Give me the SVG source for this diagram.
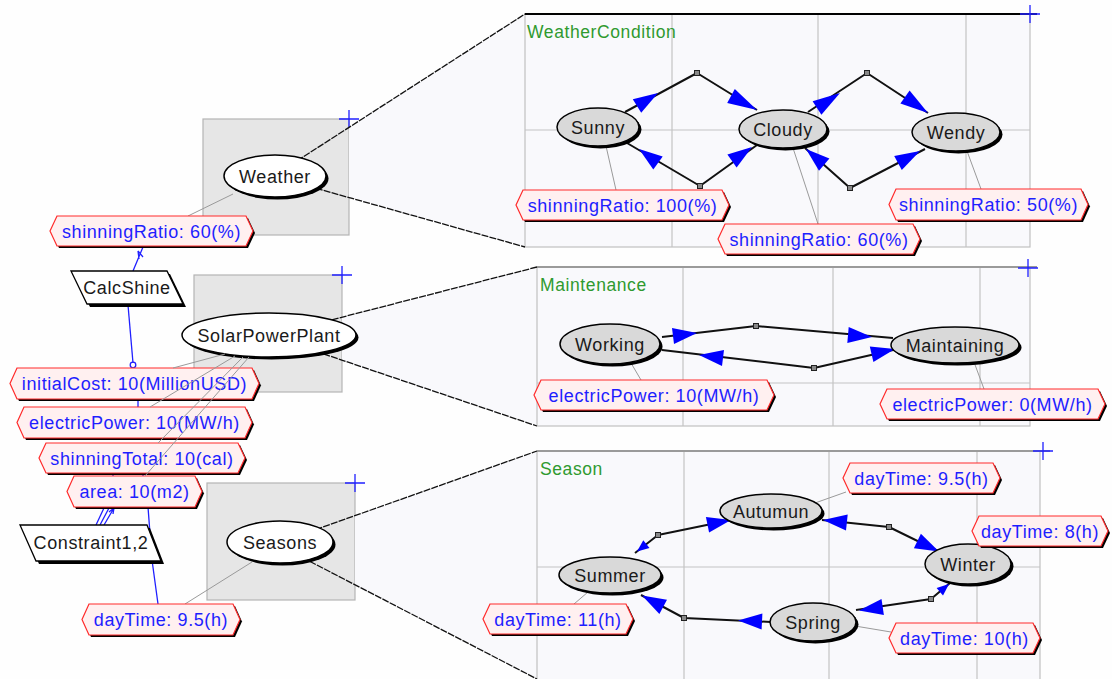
<svg xmlns="http://www.w3.org/2000/svg" width="1112" height="679" viewBox="0 0 1112 679">
<style>
.bg{fill:#fefefe}
.box{fill:#e6e6e6;stroke:#b4b4b4;stroke-width:1.2}
.plus{stroke:#2020ff;stroke-width:1.3;fill:none}
.zl{stroke:#111;stroke-width:1.3;stroke-dasharray:7 1.2;fill:none}
.zf{fill:#f9f9fc}
.panel{fill:#f9f9fc;stroke:#c0c0c0;stroke-width:1.2}
.grid{stroke:#c4c4c4;stroke-width:1.2;fill:none}
.title{font-family:"Liberation Sans",Arial,sans-serif;font-size:17.5px;fill:#2f9a2f;letter-spacing:0.6px}
.edge{stroke:#111;stroke-width:2;fill:none;stroke-linejoin:round}
.arr{fill:#0000ff}
.jn{fill:#888;stroke:#222;stroke-width:1}
.sh{fill:#000}
.ell{fill:#fff;stroke:#000;stroke-width:1.5}
.st{fill:#d9d9d9;stroke:#000;stroke-width:1.5}
.para{fill:#fff;stroke:#000;stroke-width:1.3}
.nt{font-family:"Liberation Sans",Arial,sans-serif;font-size:18px;fill:#1a1a1a;text-anchor:middle;letter-spacing:0.6px}
.link{stroke:#9a9a9a;stroke-width:1;fill:none}
.ls{fill:#000}
.lf{fill:#fff0f0;stroke:#ff2a2a;stroke-width:1.2}
.lt{font-family:"Liberation Sans",Arial,sans-serif;font-size:18px;fill:#1e1eff;text-anchor:middle;letter-spacing:0.6px}
.blue{stroke:#2020ff;stroke-width:1.3;fill:none}
</style>
<rect class="bg" x="0" y="0" width="1112" height="679"/>

<!-- left boxes -->
<g id="box-weather"><rect class="box" x="203" y="119" width="146" height="116"/><path class="plus" d="M339 119h20M349 110v18"/></g>
<g id="box-solar"><rect class="box" x="194" y="275" width="148" height="117"/><path class="plus" d="M332 275h20M342 266v18"/></g>
<g id="box-seasons"><rect class="box" x="207" y="483" width="148" height="117"/><path class="plus" d="M345 483h20M355 474v18"/></g>

<!-- zoom fills -->
<g id="zoom-fills">
<polygon class="zf" points="349,127.4 525,14 525,247 349,197.6"/>
<polygon class="zf" points="342,317 537,267 537,426 342,360.5"/>
<polygon class="zf" points="355,515.6 537,451 537,679 355,584.8"/>
</g>

<!-- panels -->
<g id="panel-weathercondition">
<rect class="panel" x="525" y="14" width="505" height="233"/>
<path class="grid" d="M672 14V247M818 14V247M966 14V247M525 130H1030"/>
<line x1="525" y1="14" x2="1037" y2="14" stroke="#000" stroke-width="2"/>
<path class="plus" d="M1020 14h20M1030 5v18"/>
<text class="title" x="527" y="38">WeatherCondition</text>
</g>
<g id="panel-maintenance">
<rect class="panel" x="537" y="267" width="493" height="159"/>
<path class="grid" d="M683 267V426M833 267V426M980 267V426M537 383H1030"/>
<line x1="537" y1="267" x2="1037" y2="267" stroke="#9a9a9a" stroke-width="2"/>
<path class="plus" d="M1018 268h20M1028 259v18"/>
<text class="title" x="540" y="291">Maintenance</text>
</g>
<g id="panel-season">
<rect class="panel" x="537" y="451" width="503" height="240"/>
<path class="grid" d="M684 451V679M829 451V679M977 451V679M537 567H1040"/>
<line x1="537" y1="451" x2="1050" y2="451" stroke="#9a9a9a" stroke-width="2"/>
<path class="plus" d="M1033 451h20M1043 442v18"/>
<text class="title" x="540" y="475">Season</text>
</g>

<!-- connectors -->
<g id="connectors">
<!-- zoom lines -->
<path class="zl" d="M290 165.4L525 14M300 183.8L525 247"/>
<path class="zl" d="M300 328L537 267M300 346L537 426"/>
<path class="zl" d="M300 535.2L537 451M295 553.7L537 679"/>
<!-- label links -->
<path class="link" d="M233 194L188 216"/>
<path class="link" d="M252 562L185 604"/>
<path class="link" d="M606 146L616 190M793 148L818 224M967 151L981 189"/>
<path class="link" d="M631 363L641 380M974 362L984 389"/>
<path class="link" d="M815 503L846 492M588 592L574 604M855 626L891 632"/>
<!-- weather transitions -->
<path class="edge" d="M625 112L697 73L757 110"/>
<path class="edge" d="M627 143L700 186L757 145"/>
<path class="edge" d="M808 112L867 73L928 113"/>
<path class="edge" d="M805 148L850 188L925 149"/>
<polygon class="arr" points="658,93 641.2,112.8 632.8,99.2"/>
<polygon class="arr" points="757,110 727.2,103 734.8,89"/>
<polygon class="arr" points="639,149 662.7,156.6 653.3,169.4"/>
<polygon class="arr" points="752,147 736.6,167.6 727.4,154.4"/>
<polygon class="arr" points="840,93 821.4,114.7 812.6,101.3"/>
<polygon class="arr" points="928,113 900.4,103.6 909.6,90.4"/>
<polygon class="arr" points="806,149 829.4,158.5 819,170.7"/>
<polygon class="arr" points="920,151 901.8,170 894.2,156"/>
<!-- maintenance transitions -->
<path class="edge" d="M662 337L756 326L893 338"/>
<path class="edge" d="M893 350L814 368L662 350"/>
<polygon class="arr" points="697,333 674,344 672,328"/>
<polygon class="arr" points="872,337 847.3,343 848.7,327"/>
<polygon class="arr" points="895,349 873.4,362.1 869.8,346.5"/>
<polygon class="arr" points="699,355 724,350 722,366"/>
<!-- season transitions -->
<path class="edge" d="M635 553L658 535L731 520"/>
<path class="edge" d="M822 520L889 527L940 552"/>
<path class="edge" d="M950 583L931 599L856 610"/>
<path class="edge" d="M771 622L684 618L641 595"/>
<polygon class="arr" points="731,520 709.1,532.6 705.9,517"/>
<polygon class="arr" points="637,551.5 649.5,548 643.3,540.2"/>
<polygon class="arr" points="823,520 846,530.5 847.7,514.5"/>
<polygon class="arr" points="939,551.5 913.9,548.2 920.9,533.8"/>
<polygon class="arr" points="949,584 943,595.5 936.6,587.9"/>
<polygon class="arr" points="859,610.5 881.5,599.1 883.9,614.9"/>
<polygon class="arr" points="738,620.5 762.4,613.6 761.6,629.6"/>
<polygon class="arr" points="642,595.5 667,599.7 659.4,613.9"/>
<!-- junctions -->
<g class="jn">
<rect x="694.5" y="70.5" width="5" height="5"/><rect x="697.5" y="183.5" width="5" height="5"/>
<rect x="864.5" y="70.5" width="5" height="5"/><rect x="847.5" y="185.5" width="5" height="5"/>
<rect x="753.5" y="323.5" width="5" height="5"/><rect x="811.5" y="365.5" width="5" height="5"/>
<rect x="655.5" y="532.5" width="5" height="5"/><rect x="886.5" y="524.5" width="5" height="5"/>
<rect x="928.5" y="596.5" width="5" height="5"/><rect x="681.5" y="615.5" width="5" height="5"/>
</g>
<!-- blue constraint links -->
<path class="blue" d="M143 247L133 271M138 251l1 8M138 251l5 6"/>
<path class="blue" d="M128 305L133 363"/>
<circle cx="133" cy="365" r="2.8" fill="none" stroke="#2020ff" stroke-width="1.3"/>
<path class="blue" d="M138 399V407M113 472V477M143 472V477"/>
<path class="blue" d="M148 507L152 560L158 604"/>
<path class="blue" d="M96 525L104 508M100 525L109 508M104 525L114 508M109 512l5-4l-1 6"/>
</g>

<!-- left nodes -->
<g id="node-weather"><ellipse class="sh" cx="277.5" cy="178.5" rx="51" ry="21"/><ellipse class="ell" cx="275" cy="176" rx="51" ry="21"/><text class="nt" x="275" y="182.5">Weather</text></g>
<g id="node-solarpowerplant"><ellipse class="sh" cx="271.5" cy="337.5" rx="87" ry="22"/><ellipse class="ell" cx="269" cy="335" rx="87" ry="22"/><text class="nt" x="269" y="341.5">SolarPowerPlant</text></g>
<g id="node-seasons"><ellipse class="sh" cx="282.5" cy="544.5" rx="53" ry="21"/><ellipse class="ell" cx="280" cy="542" rx="53" ry="21"/><text class="nt" x="280" y="548.5">Seasons</text></g>
<g id="node-calcshine"><polygon class="sh" points="74,274 170,274 186,307 90,307"/><polygon class="para" points="71,271 167,271 183,304 87,304"/><text class="nt" x="127" y="294">CalcShine</text></g>
<g id="node-constraint"><polygon class="sh" points="23,528 150,528 164,564 39,564"/><polygon class="para" points="20,525 147,525 161,561 36,561"/><text class="nt" x="91" y="549">Constraint1,2</text></g>

<!-- state nodes -->
<g id="node-sunny"><ellipse class="sh" cx="600.5" cy="129.5" rx="41" ry="19"/><ellipse class="st" cx="598" cy="127" rx="41" ry="19"/><text class="nt" x="598" y="133.5">Sunny</text></g>
<g id="node-cloudy"><ellipse class="sh" cx="785.5" cy="131.5" rx="44" ry="19"/><ellipse class="st" cx="783" cy="129" rx="44" ry="19"/><text class="nt" x="783" y="135.5">Cloudy</text></g>
<g id="node-wendy"><ellipse class="sh" cx="958.5" cy="134.5" rx="44" ry="19"/><ellipse class="st" cx="956" cy="132" rx="44" ry="19"/><text class="nt" x="956" y="138.5">Wendy</text></g>
<g id="node-working"><ellipse class="sh" cx="612.5" cy="346.5" rx="50" ry="20"/><ellipse class="st" cx="610" cy="344" rx="50" ry="20"/><text class="nt" x="610" y="350.5">Working</text></g>
<g id="node-maintaining"><ellipse class="sh" cx="957.5" cy="347.5" rx="64" ry="18"/><ellipse class="st" cx="955" cy="345" rx="64" ry="18"/><text class="nt" x="955" y="351.5">Maintaining</text></g>
<g id="node-autumun"><ellipse class="sh" cx="773.5" cy="513.5" rx="51" ry="17"/><ellipse class="st" cx="771" cy="511" rx="51" ry="17"/><text class="nt" x="771" y="517.5">Autumun</text></g>
<g id="node-winter"><ellipse class="sh" cx="970.5" cy="566.5" rx="43" ry="20"/><ellipse class="st" cx="968" cy="564" rx="43" ry="20"/><text class="nt" x="968" y="570.5">Winter</text></g>
<g id="node-summer"><ellipse class="sh" cx="612.5" cy="577.5" rx="51" ry="18"/><ellipse class="st" cx="610" cy="575" rx="51" ry="18"/><text class="nt" x="610" y="581.5">Summer</text></g>
<g id="node-spring"><ellipse class="sh" cx="815.5" cy="624.5" rx="43" ry="19"/><ellipse class="st" cx="813" cy="622" rx="43" ry="19"/><text class="nt" x="813" y="628.5">Spring</text></g>

<!-- labels -->
<g id="lbl-shinningratio-60-left" transform="translate(50,216)"><polygon class="ls" transform="translate(2,2)" points="7,0 196,0 203,15 196,30 7,30 0,15"/><polygon class="lf" points="7,0 196,0 203,15 196,30 7,30 0,15"/><text class="lt" x="101.5" y="21.5">shinningRatio: 60(%)</text></g>
<g id="lbl-initialcost" transform="translate(10,368)"><polygon class="ls" transform="translate(2,2)" points="7,0 242,0 249,15.5 242,31 7,31 0,15.5"/><polygon class="lf" points="7,0 242,0 249,15.5 242,31 7,31 0,15.5"/><text class="lt" x="124.5" y="22">initialCost: 10(MillionUSD)</text></g>
<g id="lbl-electricpower-left" transform="translate(17,407)"><polygon class="ls" transform="translate(2,2)" points="7,0 228,0 235,15.5 228,31 7,31 0,15.5"/><polygon class="lf" points="7,0 228,0 235,15.5 228,31 7,31 0,15.5"/><text class="lt" x="117.5" y="22">electricPower: 10(MW/h)</text></g>
<g id="lbl-shinningtotal" transform="translate(39,443)"><polygon class="ls" transform="translate(2,2)" points="7,0 199,0 206,15 199,30 7,30 0,15"/><polygon class="lf" points="7,0 199,0 206,15 199,30 7,30 0,15"/><text class="lt" x="103" y="21.5">shinningTotal: 10(cal)</text></g>
<g id="lbl-area" transform="translate(67,476)"><polygon class="ls" transform="translate(2,2)" points="7,0 128,0 135,15.5 128,31 7,31 0,15.5"/><polygon class="lf" points="7,0 128,0 135,15.5 128,31 7,31 0,15.5"/><text class="lt" x="67.5" y="22">area: 10(m2)</text></g>
<g id="lbl-daytime-left" transform="translate(82,604)"><polygon class="ls" transform="translate(2,2)" points="7,0 151,0 158,15.5 151,31 7,31 0,15.5"/><polygon class="lf" points="7,0 151,0 158,15.5 151,31 7,31 0,15.5"/><text class="lt" x="79" y="22">dayTime: 9.5(h)</text></g>
<g id="lbl-sunny" transform="translate(516,190)"><polygon class="ls" transform="translate(2,2)" points="7,0 206,0 213,15 206,30 7,30 0,15"/><polygon class="lf" points="7,0 206,0 213,15 206,30 7,30 0,15"/><text class="lt" x="106.5" y="21.5">shinningRatio: 100(%)</text></g>
<g id="lbl-cloudy" transform="translate(718,224)"><polygon class="ls" transform="translate(2,2)" points="7,0 195,0 202,15 195,30 7,30 0,15"/><polygon class="lf" points="7,0 195,0 202,15 195,30 7,30 0,15"/><text class="lt" x="101" y="21.5">shinningRatio: 60(%)</text></g>
<g id="lbl-wendy" transform="translate(889,189)"><polygon class="ls" transform="translate(2,2)" points="7,0 192,0 199,15.5 192,31 7,31 0,15.5"/><polygon class="lf" points="7,0 192,0 199,15.5 192,31 7,31 0,15.5"/><text class="lt" x="99.5" y="22">shinningRatio: 50(%)</text></g>
<g id="lbl-working" transform="translate(534,380)"><polygon class="ls" transform="translate(2,2)" points="7,0 233,0 240,15 233,30 7,30 0,15"/><polygon class="lf" points="7,0 233,0 240,15 233,30 7,30 0,15"/><text class="lt" x="120" y="21.5">electricPower: 10(MW/h)</text></g>
<g id="lbl-maintaining" transform="translate(880,389)"><polygon class="ls" transform="translate(2,2)" points="7,0 218,0 225,15 218,30 7,30 0,15"/><polygon class="lf" points="7,0 218,0 225,15 218,30 7,30 0,15"/><text class="lt" x="112.5" y="21.5">electricPower: 0(MW/h)</text></g>
<g id="lbl-autumun" transform="translate(843,463)"><polygon class="ls" transform="translate(2,2)" points="7,0 150,0 157,15 150,30 7,30 0,15"/><polygon class="lf" points="7,0 150,0 157,15 150,30 7,30 0,15"/><text class="lt" x="78.5" y="21.5">dayTime: 9.5(h)</text></g>
<g id="lbl-winter" transform="translate(972,516)"><polygon class="ls" transform="translate(2,2)" points="7,0 129,0 136,15 129,30 7,30 0,15"/><polygon class="lf" points="7,0 129,0 136,15 129,30 7,30 0,15"/><text class="lt" x="68" y="21.5">dayTime: 8(h)</text></g>
<g id="lbl-summer" transform="translate(483,604)"><polygon class="ls" transform="translate(2,2)" points="7,0 143,0 150,15 143,30 7,30 0,15"/><polygon class="lf" points="7,0 143,0 150,15 143,30 7,30 0,15"/><text class="lt" x="75" y="21.5">dayTime: 11(h)</text></g>
<g id="lbl-spring" transform="translate(889,623)"><polygon class="ls" transform="translate(2,2)" points="7,0 144,0 151,15 144,30 7,30 0,15"/><polygon class="lf" points="7,0 144,0 151,15 144,30 7,30 0,15"/><text class="lt" x="75.5" y="21.5">dayTime: 10(h)</text></g>

<!-- links drawn over left labels -->
<g id="solar-links">
<path class="link" d="M225 354L173 368M235 356L150 407M243 357L158 443M249 357L145 476"/>
</g>
</svg>
